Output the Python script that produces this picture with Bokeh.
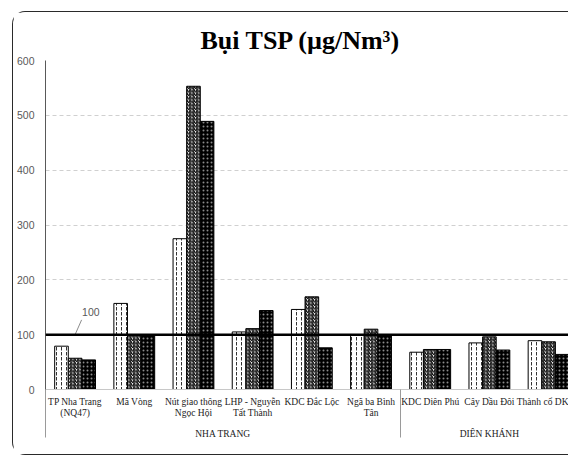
from bokeh.plotting import figure
from bokeh.models import Range1d, FixedTicker, LinearAxis, ColumnDataSource, Span, Label
from bokeh.transform import dodge
from bokeh.embed import file_html
from bokeh.resources import INLINE

title_text = "Bụi TSP (µg/Nm³)"
stations = ["TP Nha Trang\n(NQ47)", "Mã Vòng", "Nút giao thông\nNgọc Hội",
            "LHP - Nguyễn\nTất Thành", "KDC Đắc Lộc", "Ngã ba Bình\nTân",
            "KDC Diên Phú", "Cây Dầu Đôi", "Thành cổ DK"]
groups = ["NHA TRANG", "DIÊN KHÁNH"]
group_sizes = [6, 3]
series_names = ["Đợt 1", "Đợt 2", "Đợt 3"]
s1 = [79, 157, 275, 105, 146, 99, 68, 85, 89]
s2 = [57, 100, 553, 111, 169, 110, 73, 96, 87]
s3 = [54, 100, 489, 144, 76, 100, 73, 72, 64]
limit = 100
y_ticks = [0, 100, 200, 300, 400, 500, 600]

xs = list(range(len(stations)))
src = ColumnDataSource(dict(x=xs, s1=s1, s2=s2, s3=s3))

# group boundaries / centres (category index units)
bounds = [-0.5]
for g in group_sizes:
    bounds.append(bounds[-1] + g)
centres = [(bounds[i] + bounds[i + 1]) / 2 for i in range(len(group_sizes))]

W, H = 556, 444
left, top_b, bottom_b = 31, 48, 67
pix_per_cat = 59.3
visible = (W - left) / pix_per_cat

p = figure(width=W, height=H, output_backend="svg", toolbar_location=None,
           x_range=Range1d(-0.5, -0.5 + visible), y_range=Range1d(0, 600),
           min_border_left=left, min_border_right=0, min_border_top=top_b,
           min_border_bottom=bottom_b, x_axis_location=None, y_axis_location="left")
p.outline_line_color = None
p.background_fill_color = "white"
p.border_fill_color = "white"
p.styles = {"margin-left": "12px", "margin-top": "11px",
            "border": "1.5px solid #2a2a2a", "border-right": "none",
            "border-radius": "13px 0 0 13px"}

p.title.text = title_text
p.title.text_font = "Liberation Serif"
p.title.text_font_size = "26px"
p.title.text_font_style = "bold"
p.title.text_color = "black"
p.title.align = "left"
p.title.offset = 155
p.title.standoff = 11

# y axis
ya = p.yaxis[0]
ya.ticker = FixedTicker(ticks=y_ticks)
ya.major_tick_out = 0
ya.major_tick_in = 0
ya.minor_tick_out = 0
ya.major_label_standoff = 11
ya.major_label_text_font = "Liberation Sans"
ya.major_label_text_font_size = "10.5px"
ya.major_label_text_color = "#595959"
ya.axis_line_color = "#595959"

p.ygrid.ticker = FixedTicker(ticks=y_ticks[1:])
p.ygrid.grid_line_color = "#d0d0d0"
p.ygrid.grid_line_dash = "4 3"
p.xgrid.visible = False

# category axis; group separators drawn as long minor ticks
xa = LinearAxis(ticker=FixedTicker(ticks=xs, minor_ticks=bounds))
xa.major_label_overrides = {x: s for x, s in zip(xs, stations)}
xa.major_tick_out = 0
xa.major_tick_in = 0
xa.minor_tick_in = 0
xa.minor_tick_out = 48
xa.minor_tick_line_color = "#9a9a9a"
xa.axis_line_color = "#c8c8c8"
xa.major_label_standoff = -41
xa.major_label_text_font = "Liberation Serif"
xa.major_label_text_font_size = "9.5px"
xa.major_label_text_color = "#222222"
xa.major_label_text_line_height = 1.15
p.add_layout(xa, "below")

ga = LinearAxis(ticker=FixedTicker(ticks=centres, minor_ticks=[]))
ga.major_label_overrides = {c: g for c, g in zip(centres, groups)}
ga.major_tick_out = 0
ga.major_tick_in = 0
ga.axis_line_color = None
ga.major_label_standoff = 7
ga.major_label_text_font = "Liberation Serif"
ga.major_label_text_font_size = "9.5px"
ga.major_label_text_color = "#222222"
p.add_layout(ga, "below")

bw = 0.23
p.vbar(x=dodge("x", -bw, range=p.x_range), top="s1", width=bw, source=src,
       fill_color="white", line_color="black", line_width=1,
       hatch_pattern=":", hatch_color="#333333", hatch_scale=5, hatch_weight=1)
p.vbar(x=dodge("x", 0, range=p.x_range), top="s2", width=bw, source=src,
       fill_color="white", line_color="black", line_width=1,
       hatch_pattern="/", hatch_color="#111111", hatch_scale=3.5, hatch_weight=1.4)
p.vbar(x=dodge("x", bw, range=p.x_range), top="s3", width=bw, source=src,
       fill_color="black", line_color="black", line_width=1,
       hatch_pattern=".", hatch_color="#8a8a8a", hatch_scale=4, hatch_weight=1)

p.add_layout(Span(location=limit, dimension="width", line_color="black", line_width=2.5))
p.segment(x0=[xs[0]], y0=[limit], x1=[xs[0] + 0.11], y1=[limit * 1.27],
          line_color="#8c8c8c", line_width=1)
p.add_layout(Label(x=xs[0], y=limit, x_offset=7, y_offset=23, text=str(limit),
                   text_font="Liberation Sans", text_font_size="10.5px",
                   text_color="#595959", text_baseline="middle", text_align="left"))

open("out.html", "w").write(file_html(p, INLINE))
